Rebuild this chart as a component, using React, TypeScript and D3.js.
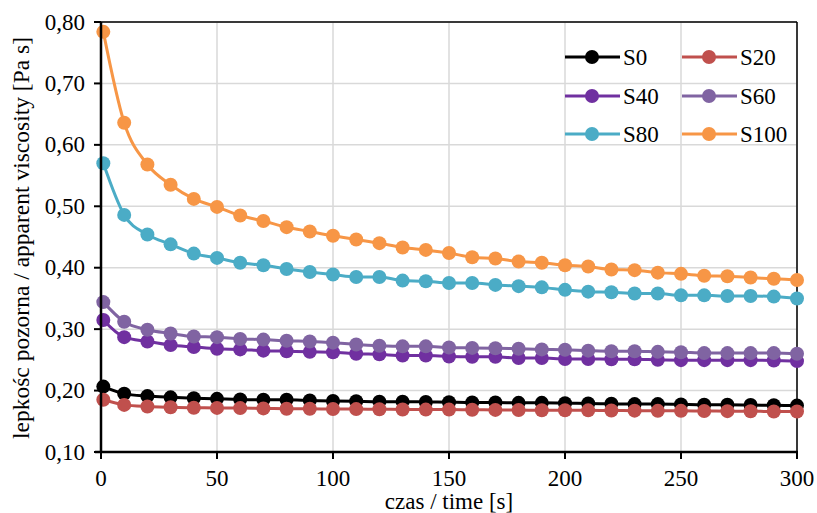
import React from "react";
import * as d3 from "d3";

const times = [1, 10, 20, 30, 40, 50, 60, 70, 80, 90, 100, 110, 120, 130, 140, 150, 160, 170, 180, 190, 200, 210, 220, 230, 240, 250, 260, 270, 280, 290, 300];

const S0 = [0.2065, 0.195, 0.191, 0.189, 0.1875, 0.1865, 0.1855, 0.185, 0.185, 0.184, 0.183, 0.1825, 0.182, 0.182, 0.1815, 0.181, 0.1805, 0.1805, 0.18, 0.18, 0.1795, 0.179, 0.1785, 0.178, 0.178, 0.1775, 0.177, 0.177, 0.1765, 0.176, 0.1755];
const S20 = [0.185, 0.1767, 0.174, 0.1728, 0.172, 0.1718, 0.1715, 0.171, 0.1705, 0.1703, 0.17, 0.1698, 0.1695, 0.1693, 0.169, 0.169, 0.1688, 0.1685, 0.1683, 0.168, 0.168, 0.1678, 0.1675, 0.1673, 0.167, 0.167, 0.1668, 0.1665, 0.1663, 0.166, 0.166];
const S40 = [0.315, 0.287, 0.28, 0.274, 0.271, 0.268, 0.267, 0.265, 0.264, 0.263, 0.2625, 0.26, 0.259, 0.257, 0.257, 0.2555, 0.255, 0.255, 0.253, 0.253, 0.2515, 0.2515, 0.251, 0.251, 0.25, 0.2495, 0.2495, 0.2495, 0.2495, 0.249, 0.248];
const S60 = [0.344, 0.312, 0.299, 0.293, 0.288, 0.287, 0.284, 0.283, 0.281, 0.28, 0.278, 0.275, 0.273, 0.272, 0.272, 0.27, 0.2695, 0.269, 0.268, 0.267, 0.2665, 0.265, 0.264, 0.264, 0.263, 0.2625, 0.261, 0.261, 0.261, 0.261, 0.26];
const S80 = [0.57, 0.486, 0.454, 0.438, 0.423, 0.416, 0.408, 0.404, 0.398, 0.393, 0.389, 0.385, 0.385, 0.379, 0.378, 0.375, 0.375, 0.372, 0.37, 0.368, 0.364, 0.361, 0.36, 0.358, 0.358, 0.355, 0.355, 0.354, 0.354, 0.353, 0.35];
const S100 = [0.784, 0.636, 0.568, 0.535, 0.512, 0.499, 0.485, 0.476, 0.466, 0.459, 0.452, 0.446, 0.44, 0.433, 0.429, 0.424, 0.417, 0.415, 0.41, 0.408, 0.404, 0.402, 0.397, 0.396, 0.392, 0.39, 0.387, 0.386, 0.384, 0.382, 0.38];

const seriesNames = ["S0", "S20", "S40", "S60", "S80", "S100"];
const seriesValues = [S0, S20, S40, S60, S80, S100];
const seriesColors = ["#000000", "#C0504D", "#7030A0", "#8064A2", "#4BACC6", "#F79646"];

const xTicks = [0, 50, 100, 150, 200, 250, 300];
const yTicks = [0.1, 0.2, 0.3, 0.4, 0.5, 0.6, 0.7, 0.8];

const xTitle = "czas / time [s]";
const yTitle = "lepkośc pozorna / apparent viscosity [Pa s]";

const W = 817;
const H = 513;
const left = 101;
const right = 797;
const top = 22;
const bottom = 452;
const font = "'Liberation Serif', 'Times New Roman', 'DejaVu Serif', serif";

export default function App() {
  const x = d3.scaleLinear().domain([0, 300]).range([left, right]);
  const y = d3.scaleLinear().domain([0.1, 0.8]).range([bottom, top]);
  const line = d3
    .line<number>()
    .x((_, i) => x(times[i]))
    .y((d) => y(d))
    .curve(d3.curveMonotoneX);

  const fmt = (v: number) => v.toFixed(2).replace(".", ",");
  const order = [0, 1, 2, 3, 4, 5];
  const legendRows = [0, 1, 2];
  const legendCols = [0, 1];
  const legX = [565, 682];
  const legY = [57, 96, 134];
  const ts: React.CSSProperties = { fontFamily: font };

  return (
    <svg
      width={W}
      height={H}
      style={{ position: "absolute", left: 0, top: 0, background: "#fff" }}
    >
      <rect x={0} y={0} width={W} height={H} fill="#fff" />
      {xTicks.slice(1).map((t) => (
        <line key={"gx" + t} x1={x(t)} x2={x(t)} y1={top} y2={bottom} stroke="#D9D9D9" strokeWidth={1.5} />
      ))}
      {yTicks.slice(1).map((t) => (
        <line key={"gy" + t} x1={left} x2={right} y1={y(t)} y2={y(t)} stroke="#D9D9D9" strokeWidth={1.5} />
      ))}
      <line x1={left} x2={right} y1={top} y2={top} stroke="#000" strokeWidth={1.5} />
      <line x1={right} x2={right} y1={top} y2={bottom} stroke="#000" strokeWidth={1.5} />

      {order.map((si) => (
        <g key={seriesNames[si]}>
          <path d={line(seriesValues[si]) || ""} fill="none" stroke={seriesColors[si]} strokeWidth={3} />
          {seriesValues[si].map((v, i) => (
            <circle key={i} cx={x(times[i])} cy={y(v)} r={7} fill={seriesColors[si]} />
          ))}
        </g>
      ))}

      <line x1={left} x2={left} y1={top} y2={bottom + 1} stroke="#000" strokeWidth={2.5} />
      <line x1={left - 6} x2={right + 1} y1={bottom} y2={bottom} stroke="#000" strokeWidth={2.5} />
      {yTicks.map((t) => (
        <g key={"yt" + t}>
          <line x1={left - 7} x2={left} y1={y(t)} y2={y(t)} stroke="#000" strokeWidth={2} />
          <text x={left - 16} y={y(t)} dy="0.33em" textAnchor="end" fontSize={23} fill="#000" style={ts}>
            {fmt(t)}
          </text>
        </g>
      ))}
      {xTicks.map((t) => (
        <g key={"xt" + t}>
          <line x1={x(t)} x2={x(t)} y1={bottom} y2={bottom + 7} stroke="#000" strokeWidth={2} />
          <text x={x(t)} y={bottom + 34} textAnchor="middle" fontSize={23} fill="#000" style={ts}>
            {t}
          </text>
        </g>
      ))}

      <text x={449} y={509} textAnchor="middle" fontSize={23} fill="#000" style={ts}>
        {xTitle}
      </text>
      <text
        transform={`translate(29, ${(top + bottom) / 2 + 1}) rotate(-90)`}
        textAnchor="middle"
        fontSize={23.5}
        fill="#000"
        style={ts}
      >
        {yTitle}
      </text>

      {legendRows.map((r) =>
        legendCols.map((c) => {
          const si = r * 2 + c;
          const lx = legX[c];
          const ly = legY[r];
          return (
            <g key={"leg" + si}>
              <line x1={lx} x2={lx + 55} y1={ly} y2={ly} stroke={seriesColors[si]} strokeWidth={3} />
              <circle cx={lx + 27} cy={ly} r={7} fill={seriesColors[si]} />
              <text x={lx + 58} y={ly} dy="0.33em" fontSize={23} fill="#000" style={ts}>
                {seriesNames[si]}
              </text>
            </g>
          );
        })
      )}
    </svg>
  );
}
